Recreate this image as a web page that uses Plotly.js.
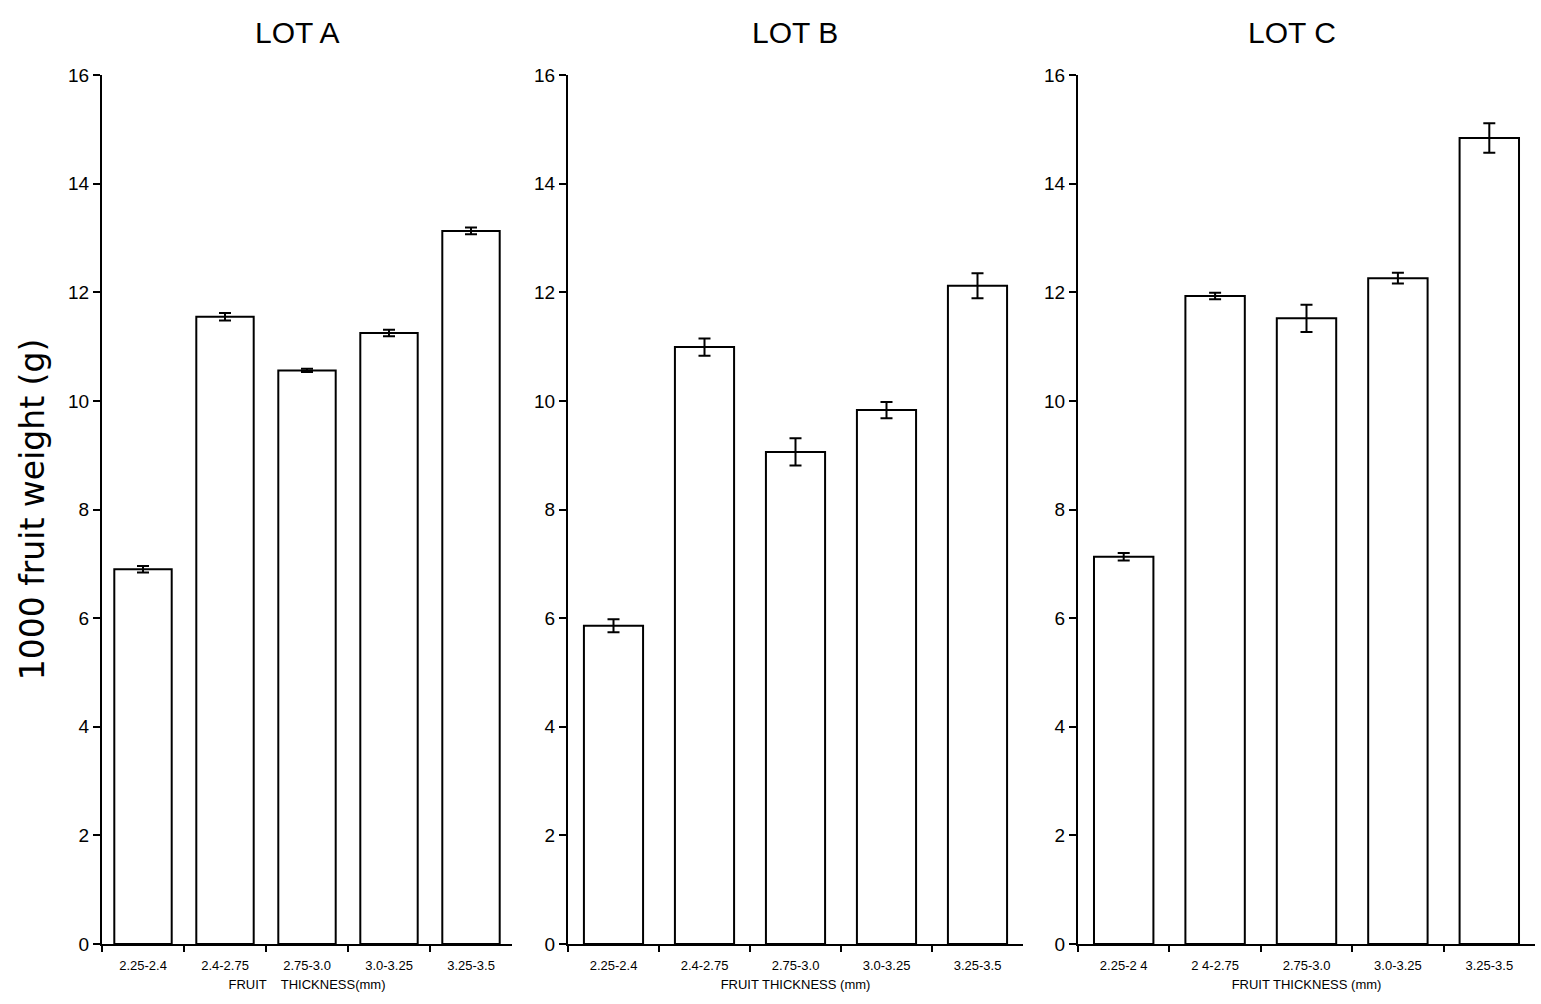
<!DOCTYPE html>
<html><head><meta charset="utf-8">
<script src="https://cdn.plot.ly/plotly-3.0.1.min.js"></script>
<style>html,body{margin:0;padding:0;background:#fff}#chart{width:1541px;height:1004px}</style>
</head><body><div id="chart"></div>
<script>
const categories = ["2.25-2.4", "2.4-2.75", "2.75-3.0", "3.0-3.25", "3.25-3.5"];
const categoriesC = ["2.25-2 4", "2 4-2.75", "2.75-3.0", "3.0-3.25", "3.25-3.5"];
const lotA = [6.9, 11.55, 10.56, 11.25, 13.13];
const lotAErr = [0.06, 0.07, 0.03, 0.06, 0.06];
const lotB = [5.86, 10.99, 9.06, 9.83, 12.12];
const lotBErr = [0.12, 0.16, 0.25, 0.15, 0.23];
const lotC = [7.13, 11.93, 11.52, 12.26, 14.84];
const lotCErr = [0.07, 0.06, 0.25, 0.1, 0.27];
const panelTitles = ["LOT A", "LOT B", "LOT C"];
const xTitles = ["FRUIT    THICKNESS(mm)", "FRUIT THICKNESS (mm)", "FRUIT THICKNESS (mm)"];
const yTitle = "1000 fruit weight (g)";
const yTicks = [0, 2, 4, 6, 8, 10, 12, 14, 16];

const font = "Liberation Sans, Arial, sans-serif";
function barTrace(cats, vals, errs, ax, width) {
  return {
    type: "bar", x: cats, y: vals, xaxis: "x" + ax, yaxis: "y" + ax,
    width: width,
    marker: {color: "#ffffff", line: {color: "#000", width: 2}},
    error_y: {type: "data", array: errs, visible: true, color: "#000", thickness: 2, width: 6},
    showlegend: false, hoverinfo: "skip"
  };
}
const data = [
  barTrace(categories, lotA, lotAErr, "", 0.7),
  barTrace(categories, lotB, lotBErr, "2", 0.65),
  barTrace(categoriesC, lotC, lotCErr, "3", 0.65)
];
const W = 1541, H = 1004;
const yDom = [1 - 944 / H, 1 - 75 / H];
function xAxis(dom, title) {
  return {
    domain: dom, range: [-0.5, 4.5], showline: true, linecolor: "#000", linewidth: 2,
    ticks: "outside", tickson: "boundaries", ticklen: 6, tickwidth: 2, tickcolor: "#000",
    ticklabelstandoff: 8,
    tickfont: {family: font, size: 13, color: "#000"}, showgrid: false, zeroline: false,
    title: {text: title, font: {family: font, size: 13, color: "#000"}, standoff: 8},
    fixedrange: true
  };
}
function yAxis(anchor) {
  return {
    domain: yDom, range: [0, 16], tickvals: yTicks, showline: true, linecolor: "#000", linewidth: 2,
    ticks: "outside", ticklen: 7, tickwidth: 2, tickcolor: "#000", anchor: anchor,
    tickfont: {family: font, size: 19, color: "#000"}, showgrid: false, zeroline: false,
    fixedrange: true
  };
}
const layout = {
  width: W, height: H, margin: {l: 0, r: 0, t: 0, b: 0},
  paper_bgcolor: "#fff", plot_bgcolor: "#fff", bargap: 0.3,
  xaxis: xAxis([102 / W, 512 / W], xTitles[0]),
  xaxis2: Object.assign(xAxis([568 / W, 1023 / W], xTitles[1]), {anchor: "y2"}),
  xaxis3: Object.assign(xAxis([1078 / W, 1535 / W], xTitles[2]), {anchor: "y3"}),
  yaxis: Object.assign(yAxis("x"), {
    title: {text: yTitle, font: {family: "DejaVu Sans, sans-serif", size: 33, color: "#000"}, standoff: 14}
  }),
  yaxis2: yAxis("x2"),
  yaxis3: yAxis("x3"),
  annotations: [
    {text: panelTitles[0], x: 297 / W, y: 1 - 33 / H},
    {text: panelTitles[1], x: 795 / W, y: 1 - 33 / H},
    {text: panelTitles[2], x: 1292 / W, y: 1 - 33 / H}
  ].map(a => Object.assign(a, {xref: "paper", yref: "paper", showarrow: false,
    xanchor: "center", yanchor: "middle", font: {family: font, size: 30, color: "#000"}}))
};
Plotly.newPlot("chart", data, layout, {displayModeBar: false, staticPlot: true});
</script></body></html>
